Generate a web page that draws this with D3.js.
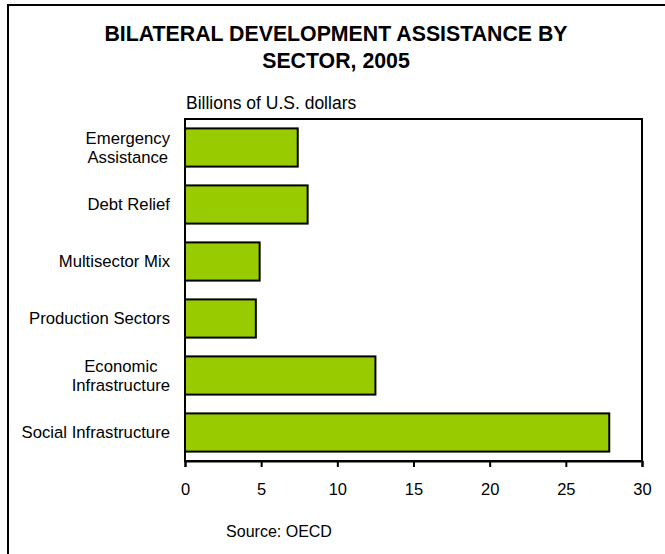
<!DOCTYPE html>
<html>
<head>
<meta charset="utf-8">
<script src="https://cdn.jsdelivr.net/npm/d3@7"></script>
<style>
  html, body { margin: 0; padding: 0; background: #fff; }
  svg { display: block; font-family: Arial, "Liberation Sans", sans-serif; }
</style>
</head>
<body>
<svg id="chart" width="665" height="554"></svg>
<script>
// Sectors, top to bottom, each split into its display lines
const sectors = [
  ["Emergency", "Assistance"],
  ["Debt Relief"],
  ["Multisector Mix"],
  ["Production Sectors"],
  ["Economic", "Infrastructure"],
  ["Social Infrastructure"]
];
// Billions of U.S. dollars, 2005
const amounts = [7.4, 8.05, 4.9, 4.65, 12.5, 27.85];
const xTicks = [0, 5, 10, 15, 20, 25, 30];

const titleLines = ["BILATERAL DEVELOPMENT ASSISTANCE BY", "SECTOR, 2005"];
const unitLabel = "Billions of U.S. dollars";
const sourceLabel = "Source: OECD";

const svg = d3.select("#chart");
const W = 665, H = 554;
const plot = { left: 185, right: 642, top: 119, bottom: 461 };
const green = "#99CC00";

// outer frame (runs off the right and bottom edges)
svg.append("rect")
  .attr("x", 8).attr("y", 5)
  .attr("width", W + 20).attr("height", H + 20)
  .attr("fill", "none").attr("stroke", "#000").attr("stroke-width", 2);

// title
svg.append("g").selectAll("text")
  .data(titleLines).join("text")
  .attr("x", 336).attr("y", (d, i) => 41 + i * 27)
  .attr("text-anchor", "middle")
  .attr("font-weight", "bold").attr("font-size", 21.3)
  .text(d => d);

const keys = sectors.map((d, i) => i);
const x = d3.scaleLinear().domain([0, 30]).range([plot.left, plot.right]);
const y = d3.scaleBand().domain(keys).range([plot.top, plot.bottom]).paddingInner(0.33).paddingOuter(0.165);

// plot frame
svg.append("rect")
  .attr("x", plot.left).attr("y", plot.top)
  .attr("width", plot.right - plot.left).attr("height", plot.bottom - plot.top)
  .attr("fill", "none").attr("stroke", "#000").attr("stroke-width", 2);

// bars
svg.append("g").selectAll("rect")
  .data(amounts).join("rect")
  .attr("x", x(0))
  .attr("y", (d, i) => y(i))
  .attr("width", d => x(d) - x(0))
  .attr("height", y.bandwidth())
  .attr("fill", green)
  .attr("stroke", "#000").attr("stroke-width", 2);

// x axis
const xAxis = svg.append("g")
  .attr("transform", `translate(0,${plot.bottom})`)
  .call(d3.axisBottom(x).tickValues(xTicks).tickSize(6).tickPadding(16).tickFormat(d3.format("d")));
xAxis.select(".domain").attr("stroke-width", 2);
xAxis.selectAll(".tick line").attr("stroke-width", 2);
xAxis.selectAll(".tick text")
  .attr("font-size", 16.5).attr("font-family", "Arial, 'Liberation Sans', sans-serif").attr("fill", "#000");

// category labels: multi-line blocks, lines centred within the block, block right-aligned
const labelRight = 170, lineH = 19;
const labelG = svg.append("g").attr("font-size", 16.7);
sectors.forEach((lines, i) => {
  const cy = y(i) + y.bandwidth() / 2;
  const g = labelG.append("g");
  const texts = g.selectAll("text").data(lines).join("text")
    .attr("y", (d, j) => cy + (j - (lines.length - 1) / 2) * lineH + 5.5)
    .text(d => d);
  let maxW = 0;
  texts.each(function () { maxW = Math.max(maxW, this.getComputedTextLength()); });
  texts.attr("x", labelRight - maxW / 2).attr("text-anchor", "middle");
});

// unit label and source
svg.append("text").attr("x", 186).attr("y", 109).attr("font-size", 17.5).text(unitLabel);
svg.append("text").attr("x", 279).attr("y", 537).attr("text-anchor", "middle").attr("font-size", 16).text(sourceLabel);
</script>
</body>
</html>
